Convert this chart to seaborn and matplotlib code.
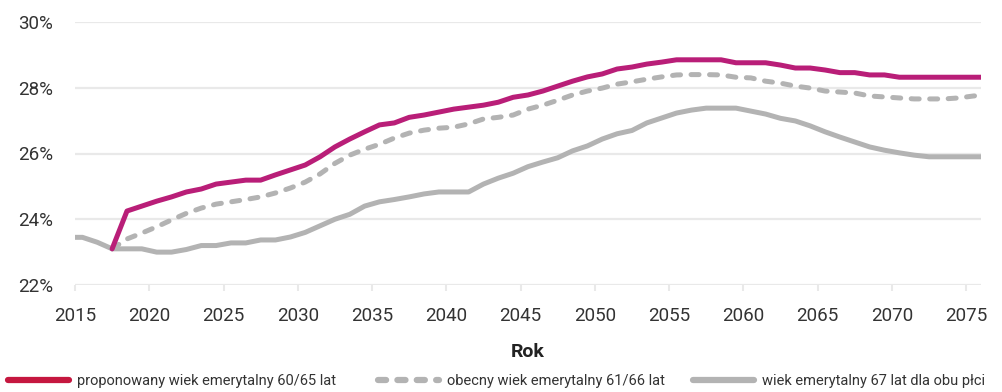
import numpy as np
import pandas as pd
import matplotlib
matplotlib.use("Agg")
import matplotlib.pyplot as plt
from matplotlib.lines import Line2D
import seaborn as sns

# lata i udział (%)
years_all = list(range(2014, 2077))
years_reform = list(range(2017, 2077))

wiek_67 = [23.45, 23.45, 23.3, 23.1, 23.1, 23.1, 23.0, 23.0, 23.08, 23.2,
           23.2, 23.28, 23.28, 23.37, 23.37, 23.46, 23.6, 23.8, 24.0, 24.15,
           24.4, 24.53, 24.6, 24.68, 24.77, 24.83, 24.83, 24.83, 25.07, 25.25,
           25.4, 25.6, 25.74, 25.87, 26.08, 26.23, 26.44, 26.6, 26.7, 26.93,
           27.08, 27.23, 27.32, 27.38, 27.38, 27.38, 27.29, 27.2, 27.07, 26.99,
           26.84, 26.66, 26.5, 26.35, 26.2, 26.1, 26.02, 25.95, 25.9, 25.9,
           25.9, 25.9, 25.9]

proponowany = [23.1, 24.25, 24.4, 24.55, 24.68, 24.83, 24.92, 25.07, 25.13, 25.19,
               25.19, 25.35, 25.5, 25.65, 25.9, 26.2, 26.44, 26.66, 26.87, 26.93,
               27.1, 27.17, 27.26, 27.35, 27.41, 27.47, 27.56, 27.71, 27.78, 27.9,
               28.05, 28.2, 28.33, 28.42, 28.57, 28.63, 28.72, 28.78, 28.85, 28.85,
               28.85, 28.85, 28.76, 28.76, 28.76, 28.69, 28.6, 28.6, 28.54, 28.46,
               28.46, 28.39, 28.39, 28.32, 28.32, 28.32, 28.32, 28.32, 28.32, 28.32]

obecny = [23.1, 23.4, 23.58, 23.77, 23.98, 24.18, 24.34, 24.46, 24.53, 24.6,
          24.68, 24.8, 24.95, 25.13, 25.38, 25.7, 25.95, 26.13, 26.28, 26.47,
          26.62, 26.71, 26.77, 26.8, 26.9, 27.05, 27.1, 27.17, 27.35, 27.47,
          27.62, 27.78, 27.9, 27.99, 28.11, 28.18, 28.26, 28.33, 28.39, 28.4,
          28.4, 28.39, 28.32, 28.3, 28.2, 28.14, 28.05, 27.99, 27.9, 27.87,
          27.84, 27.75, 27.72, 27.69, 27.66, 27.66, 27.66, 27.69, 27.75, 27.78]

labels = ["proponowany wiek emerytalny 60/65 lat",
          "obecny wiek emerytalny 61/66 lat",
          "wiek emerytalny 67 lat dla obu płci"]
y_ticks = [22, 24, 26, 28, 30]
x_ticks = list(range(2015, 2080, 5))

MAGENTA = "#b91e78"
LEGEND_RED = "#c5173f"
GREY = "#b3b3b3"
GRID = "#e9e9e9"

sns.set_theme(style="white")
plt.rcParams["font.family"] = ["Roboto", "DejaVu Sans"]
plt.rcParams["text.color"] = "#333333"

fig = plt.figure(figsize=(10.03, 3.92), dpi=100)
ax = fig.add_axes([75 / 1003, 1 - 285 / 392, (981 - 75) / 1003, (285 - 22) / 392])

# punkty w połowie roku
x_all = np.array(years_all) + 0.5
x_ref = np.array(years_reform) + 0.5

lw = 3.6
sns.lineplot(x=x_ref, y=obecny, ax=ax, color=GREY, lw=lw)
ax.lines[-1].set_dashes((1.6, 2.1))
ax.lines[-1].set_dash_capstyle("round")
sns.lineplot(x=x_all, y=wiek_67, ax=ax, color=GREY, lw=lw)
sns.lineplot(x=x_ref, y=proponowany, ax=ax, color=MAGENTA, lw=lw)
for ln in ax.lines:
    ln.set_solid_capstyle("round")

ax.set_xlim(2015, 2076)
ax.set_ylim(22, 30)
ax.set_yticks(y_ticks)
ax.set_yticklabels([f"{v}%" for v in y_ticks])
ax.set_xticks(x_ticks)
ax.set_xticklabels([str(v) for v in x_ticks])
ax.yaxis.grid(True, color=GRID, lw=1.6)
ax.set_axisbelow(True)
for s in ax.spines.values():
    s.set_visible(False)
ax.tick_params(axis="y", length=0, pad=16, labelsize=13.5, labelcolor="#333333")
ax.tick_params(axis="x", length=4, width=1.5, color=GRID, pad=12,
               labelsize=13.5, labelcolor="#333333", direction="out", bottom=True)
ax.set_xlabel("Rok", fontsize=14, fontweight="bold", labelpad=13, color="#222222")
ax.set_ylabel("")

# legenda: trzy osobne wpisy, rozstawione jak w oryginale
handles = [
    Line2D([], [], color=LEGEND_RED, lw=4.5, solid_capstyle="round"),
    Line2D([], [], color=GREY, lw=4.5, dashes=(1.3, 1.8), dash_capstyle="round"),
    Line2D([], [], color=GREY, lw=4.5, solid_capstyle="round"),
]
starts = [8, 378, 693]
for h, lab, px in zip(handles, labels, starts):
    fig.legend([h], [lab], loc="center left", bbox_to_anchor=(px / 1003, 1 - 381 / 392),
               frameon=False, fontsize=10.5, handlelength=4.2, handletextpad=0.55,
               borderpad=0, borderaxespad=0)

fig.savefig("out.png", dpi=100)
